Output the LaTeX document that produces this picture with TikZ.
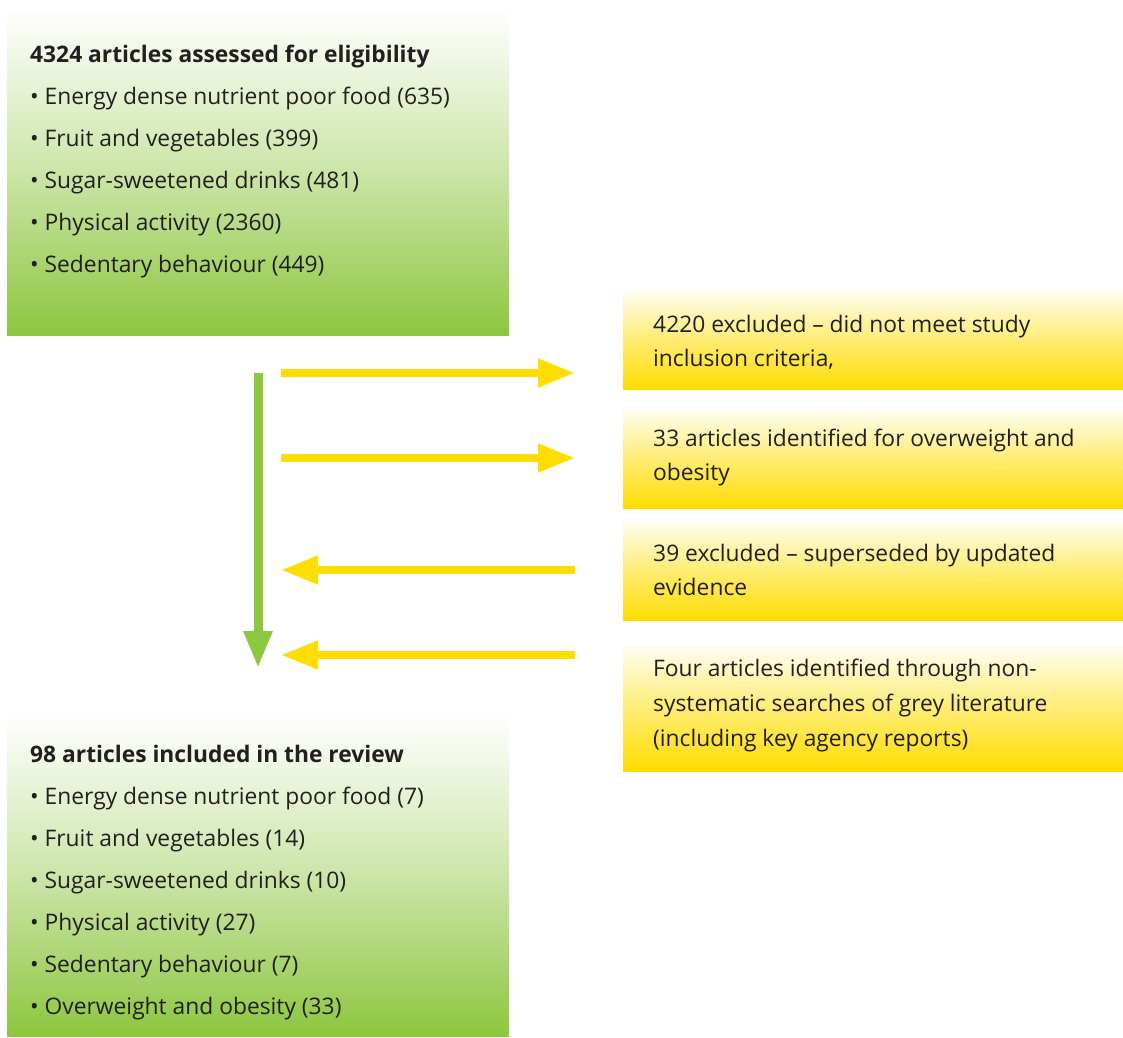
\documentclass[tikz,border=0pt]{standalone}
\usepackage{fontspec}
\setmainfont{Open Sans}
\usetikzlibrary{arrows.meta}
\definecolor{lgreen}{HTML}{8DC63F}
\definecolor{lyellow}{HTML}{FFDD00}
\definecolor{txt}{HTML}{231F20}
\tikzset{
  greenbox/.style={draw=none, rectangle, inner sep=0pt, anchor=north west,
    top color=white, bottom color=lgreen, middle color=lgreen!45!white},
  yellowbox/.style={draw=none, rectangle, inner sep=0pt, anchor=north west,
    top color=lyellow!5!white, bottom color=lyellow, middle color=lyellow!55!white},
  ln/.style={anchor=base west, inner sep=0pt, text=txt, font=\fontsize{22.8}{27}\selectfont},
  ttl/.style={ln, font=\fontsize{22.8}{27}\selectfont\bfseries},
  yarrow/.style={draw=lyellow, line width=8pt, -{Triangle[length=37pt,width=27pt]}},
  garrow/.style={draw=lgreen, line width=9pt, -{Triangle[length=37pt,width=27pt]}},
}
\begin{document}
\begin{tikzpicture}[x=1pt,y=-1pt]
\useasboundingbox (0,0) rectangle (1123,1037);
% boxes
\node[greenbox, minimum width=502pt, minimum height=328pt] (top) at (7,7) {};
\node[greenbox, minimum width=502pt, minimum height=322pt] (bot) at (7,714) {};
\node[yellowbox, minimum width=500pt, minimum height=99pt] (y1) at (623,290) {};
\node[yellowbox, minimum width=500pt, minimum height=99pt] (y2) at (623,409) {};
\node[yellowbox, minimum width=500pt, minimum height=99pt] (y3) at (623,521) {};
\node[yellowbox, minimum width=500pt, minimum height=125pt] (y4) at (623,646) {};
% top text
\node[ttl] (tt) at (30,62) {4324 articles assessed for eligibility};
\node[ln] (ta) at (30,104) {• Energy dense nutrient poor food (635)};
\node[ln] (tb) at (30,146) {• Fruit and vegetables (399)};
\node[ln] (tc) at (30,188) {• Sugar-sweetened drinks (481)};
\node[ln] (td) at (30,230) {• Physical activity (2360)};
\node[ln] (te) at (30,272) {• Sedentary behaviour (449)};
% bottom text
\node[ttl] (bt) at (30,762) {98 articles included in the review};
\node[ln] (ba) at (30,804) {• Energy dense nutrient poor food (7)};
\node[ln] (bb) at (30,846) {• Fruit and vegetables (14)};
\node[ln] (bc) at (30,888) {• Sugar-sweetened drinks (10)};
\node[ln] (bd) at (30,930) {• Physical activity (27)};
\node[ln] (be) at (30,972) {• Sedentary behaviour (7)};
\node[ln] (bf) at (30,1014) {• Overweight and obesity (33)};
% yellow text
\node[ln] (y1a) at (653,332) {4220 excluded – did not meet study};
\node[ln] (y1b) at (653,366) {inclusion criteria,};
\node[ln] (y2a) at (653,446) {33 articles identified for overweight and};
\node[ln] (y2b) at (653,480) {obesity};
\node[ln] (y3a) at (653,561) {39 excluded – superseded by updated};
\node[ln] (y3b) at (653,595) {evidence};
\node[ln] (y4a) at (653,676) {Four articles identified through non-};
\node[ln] (y4b) at (653,711) {systematic searches of grey literature};
\node[ln] (y4c) at (653,746) {(including key agency reports)};
% arrows
\coordinate (g1) at (258,373);
\coordinate (g2) at (258,668);
\coordinate (a1s) at (281,373); \coordinate (a1e) at (575,373);
\coordinate (a2s) at (281,458); \coordinate (a2e) at (575,458);
\coordinate (a3s) at (575,570); \coordinate (a3e) at (281,570);
\coordinate (a4s) at (575,655); \coordinate (a4e) at (281,655);
\draw[garrow] (g1) -- (g2);
\draw[yarrow] (a1s) -- (a1e);
\draw[yarrow] (a2s) -- (a2e);
\draw[yarrow] (a3s) -- (a3e);
\draw[yarrow] (a4s) -- (a4e);
\end{tikzpicture}
\end{document}
